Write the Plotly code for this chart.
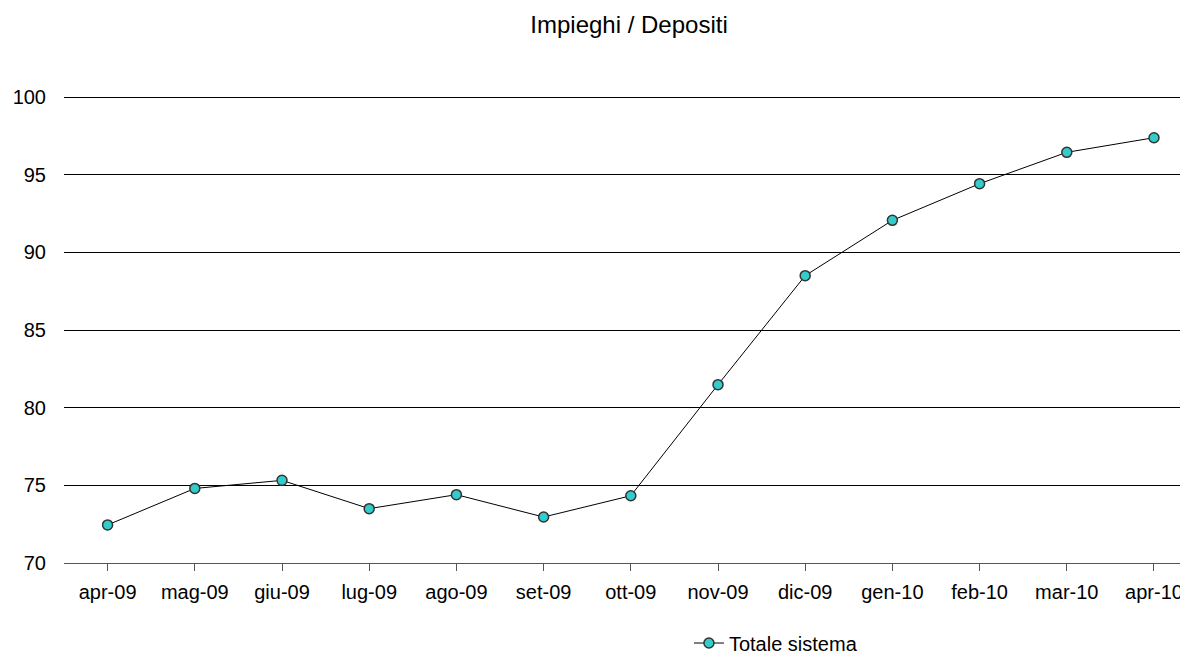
import plotly.graph_objects as go

categories = ["apr-09", "mag-09", "giu-09", "lug-09", "ago-09", "set-09", "ott-09",
              "nov-09", "dic-09", "gen-10", "feb-10", "mar-10", "apr-10"]
totale_sistema = [72.45, 74.80, 75.32, 73.50, 74.40, 72.96, 74.33,
                  81.48, 88.50, 92.06, 94.42, 96.44, 97.38]
y_ticks = [70, 75, 80, 85, 90, 95, 100]

FONT = "Liberation Sans, Arial, sans-serif"

# page body has an 8px margin, so the figure is sized to fit the window exactly
W, H = 1180, 645

fig = go.Figure()
fig.add_trace(go.Scatter(
    x=list(range(len(categories))), y=totale_sistema,
    mode="lines+markers", name="Totale sistema",
    line=dict(color="#000000", width=1),
    marker=dict(size=10, color="#33CCCC", line=dict(color="#333333", width=1.5)),
))

fig.update_layout(
    width=W, height=H,
    margin=dict(l=56, r=0, t=87, b=90, autoexpand=False),
    paper_bgcolor="white", plot_bgcolor="white",
    font=dict(family=FONT, size=20, color="#000000"),
    title=dict(text="Impieghi / Depositi", x=0.5263, xanchor="center", y=0.9736, yanchor="middle",
               font=dict(family=FONT, size=24, color="#000000")),
    showlegend=True,
    legend=dict(orientation="h", x=0.556, xanchor="left", y=-0.171, yanchor="middle",
                font=dict(family=FONT, size=20, color="#000000"), bgcolor="rgba(0,0,0,0)"),
    xaxis=dict(
        tickmode="array", tickvals=list(range(len(categories))), ticktext=categories,
        range=[-0.5, 12.39], showgrid=False, zeroline=False, automargin=False,
        showline=True, linecolor="#555555", linewidth=1,
        ticks="outside", ticklen=7, tickcolor="#555555", tickwidth=1,
        tickson="boundaries", ticklabelstandoff=4,
    ),
    yaxis=dict(
        range=[70, 100.13], tickvals=y_ticks, showgrid=True, gridcolor="#000000", gridwidth=1,
        zeroline=False, showline=False, ticks="", ticklabelstandoff=17, automargin=False,
    ),
)

fig.write_html("out.html")
